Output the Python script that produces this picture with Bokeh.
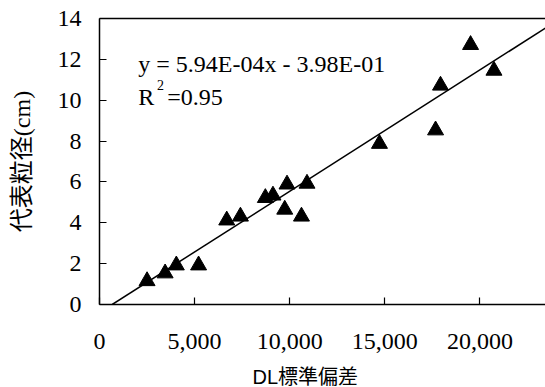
from bokeh.plotting import figure
from bokeh.models import (Range1d, LinearAxis, FixedTicker, NumeralTickFormatter,
                          Slope, Label, Title, ColumnDataSource)
from bokeh.embed import file_html
from bokeh.resources import INLINE

# ---- data ----
dl_std = [2500, 3450, 4040, 5210, 6690, 7410, 8720, 9120, 9860, 10910,
          9740, 10620, 14720, 17670, 17930, 19510, 20740]
grain_size = [1.15, 1.53, 1.92, 1.92, 4.12, 4.31, 5.22, 5.34, 5.88, 5.92,
              4.65, 4.31, 7.87, 8.53, 10.72, 12.71, 11.45]
x_ticks = [0, 5000, 10000, 15000, 20000]
y_ticks = [0, 2, 4, 6, 8, 10, 12, 14]
fit_slope = 5.94e-4
fit_intercept = -0.398
eq_text = "y = 5.94E-04x - 3.98E-01"
r2_value = "=0.95"
x_title = "DL標準偏差"
y_title = "代表粒径(cm)"

SERIF = "Liberation Serif"
TITLE_Y_FONT = "'Liberation Serif', 'Noto Sans CJK JP'"
TITLE_X_FONT = "'Liberation Sans', 'Noto Sans CJK JP'"

p = figure(width=545, height=387, output_backend="svg", toolbar_location=None,
           x_range=Range1d(0, 23450), y_range=Range1d(0, 14),
           min_border_left=99, min_border_right=0, min_border_top=18,
           min_border_bottom=83, outline_line_color=None,
           background_fill_color="white", border_fill_color="white")
p.xgrid.visible = False
p.ygrid.visible = False

for ax in (p.xaxis[0], p.yaxis[0]):
    ax.axis_line_color = "black"
    ax.axis_line_width = 1.5
    ax.major_tick_line_color = "black"
    ax.major_tick_line_width = 1.2
    ax.major_tick_in = 7
    ax.major_tick_out = 0
    ax.minor_tick_line_color = None
    ax.major_label_text_font = SERIF
    ax.major_label_text_font_size = "24px"
    ax.major_label_text_color = "black"

p.xaxis[0].ticker = FixedTicker(ticks=x_ticks)
p.xaxis[0].formatter = NumeralTickFormatter(format="0,0")
p.xaxis[0].major_label_standoff = 29
# invisible spacer label: pushes the x title (below) further down
p.xaxis[0].axis_label = " "
p.xaxis[0].axis_label_text_font_size = "1px"
p.xaxis[0].axis_label_text_alpha = 0
p.xaxis[0].axis_label_standoff = 8

p.yaxis[0].ticker = FixedTicker(ticks=y_ticks)
p.yaxis[0].major_label_standoff = 18
p.yaxis[0].axis_label = y_title
p.yaxis[0].axis_label_text_font = TITLE_Y_FONT
p.yaxis[0].axis_label_text_font_size = "24px"
p.yaxis[0].axis_label_text_font_style = "normal"
p.yaxis[0].axis_label_text_color = "black"
p.yaxis[0].axis_label_standoff = 20

top_axis = LinearAxis(ticker=FixedTicker(ticks=[]), axis_line_color="black",
                      axis_line_width=1.5, major_tick_line_color=None,
                      minor_tick_line_color=None, major_label_text_font_size="0px",
                      major_label_standoff=0)
p.add_layout(top_axis, "above")

# x-axis title, placed under the tick labels
p.add_layout(Title(text=x_title, align="left", offset=153, standoff=0,
                   text_font=TITLE_X_FONT, text_font_size="20px",
                   text_font_style="normal", text_color="black"), "below")

src = ColumnDataSource(dict(x=dl_std, y=grain_size))
p.scatter("x", "y", source=src, marker="triangle", size=16,
          fill_color="black", line_color="black")

p.add_layout(Slope(gradient=fit_slope, y_intercept=fit_intercept,
                   line_color="black", line_width=1.5))

# equation and R^2
p.add_layout(Label(x=2040, y=11.76, text=eq_text, text_font=SERIF,
                   text_font_size="24px", text_color="black",
                   text_baseline="alphabetic"))
p.add_layout(Label(x=2040, y=10.18, text="R", text_font=SERIF,
                   text_font_size="24px", text_color="black",
                   text_baseline="alphabetic"))
p.add_layout(Label(x=3020, y=10.75, text="2", text_font=SERIF,
                   text_font_size="14px", text_color="black",
                   text_baseline="alphabetic"))
p.add_layout(Label(x=3560, y=10.18, text=r2_value, text_font=SERIF,
                   text_font_size="24px", text_color="black",
                   text_baseline="alphabetic"))

open("out.html", "w").write(file_html(p, INLINE))
